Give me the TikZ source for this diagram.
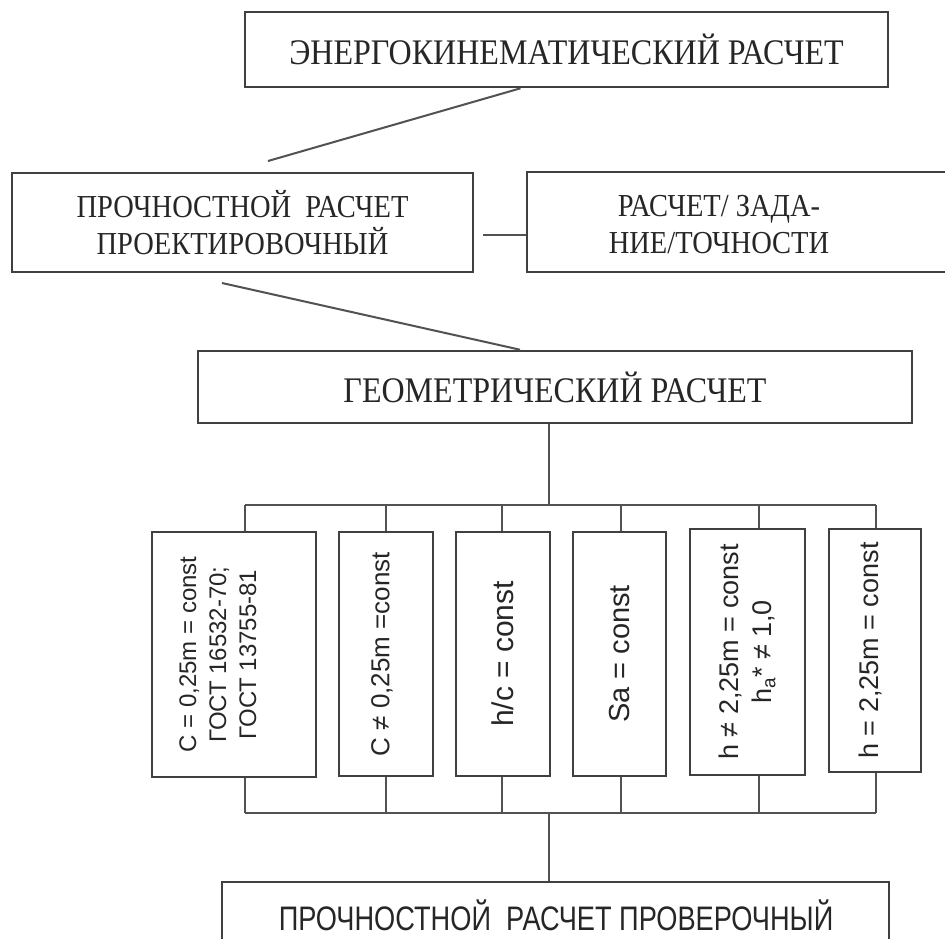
\documentclass[tikz,border=0pt]{standalone}
\usepackage{fontspec}
\setmainfont{Liberation Serif}
\newfontfamily\serc[FakeStretch=0.89]{Liberation Serif}
\newfontfamily\sansf{Liberation Sans}
\newfontfamily\sanc[FakeStretch=0.8]{Liberation Sans}
\usetikzlibrary{calc}
\begin{document}
\begin{tikzpicture}[x=1pt,y=-1pt,
  box/.style={draw=black!75, line width=2.6pt, rectangle, inner sep=0pt, text=black!85},
  vbox/.style={box, line width=2.4pt},
  conn/.style={draw=black!68, line width=2pt},
  lbl/.style={inner sep=0pt, text=black!85, align=center}]
\useasboundingbox (0,0) rectangle (945,938);
\fill[white] (0,0) rectangle (945,938);

% upper blocks
\node[box, minimum width=643pt, minimum height=75pt, font={\fontsize{36}{40}\serc}] (top) at (566.5,49.5) {ЭНЕРГОКИНЕМАТИЧЕСКИЙ РАСЧЕТ};
\node[box, minimum width=461pt, minimum height=99pt, align=center, font={\fontsize{32}{37}\serc}] (pr) at (242.5,222.5) {ПРОЧНОСТНОЙ\ \ РАСЧЕТ\\ПРОЕКТИРОВОЧНЫЙ};
\node[box, minimum width=425pt, minimum height=100pt] (acc) at (739.5,222) {};
\node[lbl, font={\fontsize{32}{37}\serc}] (acctx) at (719,225) {РАСЧЕТ/ ЗАДА-\\НИЕ/ТОЧНОСТИ};
\node[box, minimum width=714pt, minimum height=72pt, font={\fontsize{36}{40}\serc}] (geo) at (555,387) {ГЕОМЕТРИЧЕСКИЙ РАСЧЕТ};

% vertical boxes
\node[vbox, minimum width=164pt, minimum height=245pt, font={\fontsize{24}{30}\sansf}] (b1) at (234,654.5)
  {\rotatebox{90}{\begin{tabular}{@{}c@{}}C = 0,25m = const\\ГОСТ 16532-70;\\ГОСТ 13755-81\end{tabular}}\hspace*{28pt}};
\node[vbox, minimum width=94pt, minimum height=244pt, font={\fontsize{26}{30}\sansf}] (b2) at (386,654)
  {\rotatebox{90}{C ≠ 0,25m =const}\hspace*{8pt}};
\node[vbox, minimum width=94pt, minimum height=244pt, font={\fontsize{30}{34}\sansf}] (b3) at (503,654)
  {\rotatebox{90}{h/c = const}};
\node[vbox, minimum width=93pt, minimum height=244pt, font={\fontsize{29}{33}\sansf}] (b4) at (619.5,654)
  {\rotatebox{90}{Sa = const}};
\node[vbox, minimum width=115pt, minimum height=246pt, font={\fontsize{27}{33}\sansf}] (b5) at (747.5,652)
  {\hspace*{2pt}\rotatebox{90}{\begin{tabular}{@{}c@{}}h ≠ 2,25m = const\\h\textsubscript{a}* ≠ 1,0\end{tabular}}};
\node[vbox, minimum width=92pt, minimum height=243pt, font={\fontsize{27}{31}\sansf}] (b6) at (875,650.5)
  {\rotatebox{90}{h = 2,25m = const}\hspace*{10pt}};

% bottom block
\node[box, minimum width=667pt, minimum height=66pt] (bot) at (555.5,915) {};
\node[lbl, font={\fontsize{34}{38}\sanc}] (bottx) at (556,915) {ПРОЧНОСТНОЙ\ \ РАСЧЕТ ПРОВЕРОЧНЫЙ};

% connectors between upper blocks
\coordinate (e1) at (268,161);
\draw[conn] ($(top.south)+(-46,0)$) -- (e1);
\draw[conn] ($(pr.east)+(9,12.5)$) -- ($(acc.west)+(0,13)$);
\coordinate (s2) at (222,283);
\draw[conn] (s2) -- ($(geo.north)+(-35,0)$);

% upper bus
\coordinate (bus1) at (549,505);
\coordinate (t1) at (245,505);
\coordinate (t2) at (386,505);
\coordinate (t3) at (502,505);
\coordinate (t4) at (621,505);
\coordinate (t5) at (759,505);
\coordinate (t6) at (876,505);
\draw[conn] ($(geo.south)+(-6,0)$) -- (bus1);
\draw[conn] (t1) -- (t6);
\foreach \i in {1,...,6} { \draw[conn] (t\i) -- (t\i |- b\i.north); }

% lower bus
\coordinate (bus2) at (549,813);
\coordinate (u1) at (245,813);
\coordinate (u2) at (386,813);
\coordinate (u3) at (502,813);
\coordinate (u4) at (621,813);
\coordinate (u5) at (759,813);
\coordinate (u6) at (876,813);
\draw[conn] (u1) -- (u6);
\foreach \i in {1,...,6} { \draw[conn] (u\i |- b\i.south) -- (u\i); }
\draw[conn] (bus2) -- (bus2 |- bot.north);
\end{tikzpicture}
\end{document}
